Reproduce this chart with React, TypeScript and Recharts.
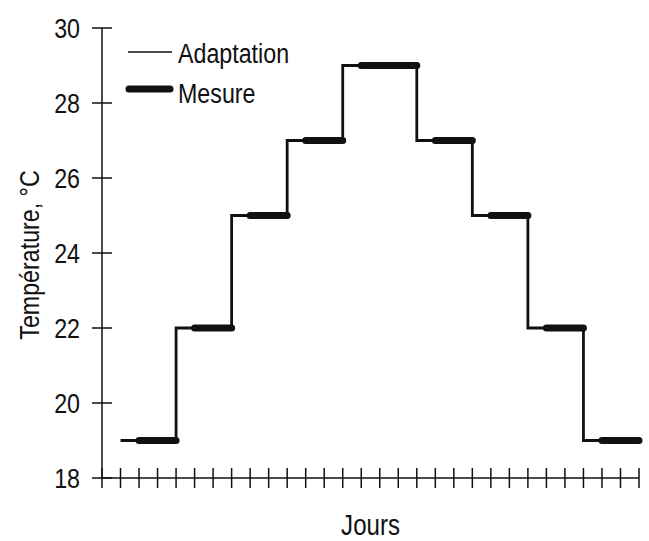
import React from "react";
import { LineChart, Line, XAxis, YAxis, Legend } from "recharts";

// temperature levels, one per 3-day block (the peak lasts 4 days)
const levels = [19, 22, 25, 27, 29, 27, 25, 22, 19];
const adaptStart = [1, 4, 7, 10, 13, 17, 20, 23, 26];
const mesureStart = [2, 5, 8, 11, 14, 18, 21, 24, 27];
const mesureEnd = [4, 7, 10, 13, 17, 20, 23, 26, 29];

const xTicks = Array.from({ length: 30 }, (_, i) => i);
const yTicks = [18, 20, 22, 24, 26, 28, 30];

const FONT = '"Liberation Sans", Arial, Helvetica, sans-serif';
const INK = "#111";
const NARROW = 0.83; // the source uses a condensed Helvetica

const adaptData = [
  ...adaptStart.map((d, i) => ({ day: d, adaptation: levels[i] })),
  { day: mesureEnd[mesureEnd.length - 1], adaptation: levels[levels.length - 1] },
];

const mesureData: { day: number; mesure: number | null }[] = [];
levels.forEach((t, i) => {
  mesureData.push({ day: mesureStart[i], mesure: t });
  mesureData.push({ day: mesureEnd[i], mesure: t });
  mesureData.push({ day: mesureEnd[i], mesure: null });
});

// condensed text: scale glyphs horizontally around the anchor point
const NText = ({ x, y, anchor = "start", size = 28, rotate = false, dy, children }: any) => (
  <text
    x={0}
    y={0}
    dy={dy}
    transform={`translate(${x},${y})${rotate ? " rotate(-90)" : ""} scale(${NARROW},1)`}
    textAnchor={anchor}
    fontFamily={FONT}
    fontSize={size}
    fill={INK}
  >
    {children}
  </text>
);

const XTick = ({ x, y }: any) => (
  <line x1={x} x2={x} y1={y - 10} y2={y + 10} stroke={INK} strokeWidth={1.5} />
);

const YTick = ({ x, y, payload }: any) => (
  <g>
    <line x1={x - 10} x2={x + 10} y1={y} y2={y} stroke={INK} strokeWidth={1.5} />
    <NText x={x - 22} y={y} dy="0.36em" anchor="end" size={28}>
      {payload.value}
    </NText>
  </g>
);

const JoursLabel = ({ viewBox }: any) => (
  <NText x={viewBox.x + viewBox.width / 2} y={535} anchor="middle" size={29}>
    Jours
  </NText>
);

const TempLabel = () => (
  <NText x={39} y={255} anchor="middle" size={28} rotate>
    Température, °C
  </NText>
);

const LegendBox = () => (
  <svg width={200} height={80} style={{ overflow: "visible" }}>
    <line x1={8} x2={52} y1={18} y2={18} stroke={INK} strokeWidth={1.5} />
    <NText x={58} y={29}>Adaptation</NText>
    <line x1={9} x2={50} y1={55} y2={55} stroke={INK} strokeWidth={7} strokeLinecap="round" />
    <NText x={58} y={69}>Mesure</NText>
  </svg>
);

export default function App() {
  return (
    <div style={{ position: "absolute", left: 0, top: 0, background: "#fff" }}>
      <LineChart
        width={649}
        height={541}
        margin={{ top: 28, right: 10, bottom: 33, left: 42 }}
      >
        <XAxis
          dataKey="day"
          type="number"
          domain={[0, 29]}
          ticks={xTicks}
          interval={0}
          height={30}
          tickSize={0}
          tickMargin={0}
          tickLine={false}
          tick={<XTick />}
          axisLine={{ stroke: INK, strokeWidth: 1.5 }}
          allowDuplicatedCategory={false}
          label={<JoursLabel />}
        />
        <YAxis
          type="number"
          domain={[18, 30]}
          ticks={yTicks}
          interval={0}
          width={60}
          tickSize={0}
          tickMargin={0}
          tickLine={false}
          tick={<YTick />}
          axisLine={{ stroke: INK, strokeWidth: 1.5 }}
          label={<TempLabel />}
        />
        <Legend
          layout="vertical"
          align="center"
          verticalAlign="middle"
          wrapperStyle={{ left: 120, top: 34, width: 200 }}
          content={<LegendBox />}
        />
        <Line
          data={adaptData}
          dataKey="adaptation"
          name="Adaptation"
          type="stepAfter"
          stroke={INK}
          strokeWidth={2.8}
          dot={false}
          activeDot={false}
          isAnimationActive={false}
        />
        <Line
          data={mesureData}
          dataKey="mesure"
          name="Mesure"
          type="linear"
          stroke={INK}
          strokeWidth={7}
          strokeLinecap="round"
          connectNulls={false}
          dot={false}
          activeDot={false}
          isAnimationActive={false}
        />
      </LineChart>
    </div>
  );
}
